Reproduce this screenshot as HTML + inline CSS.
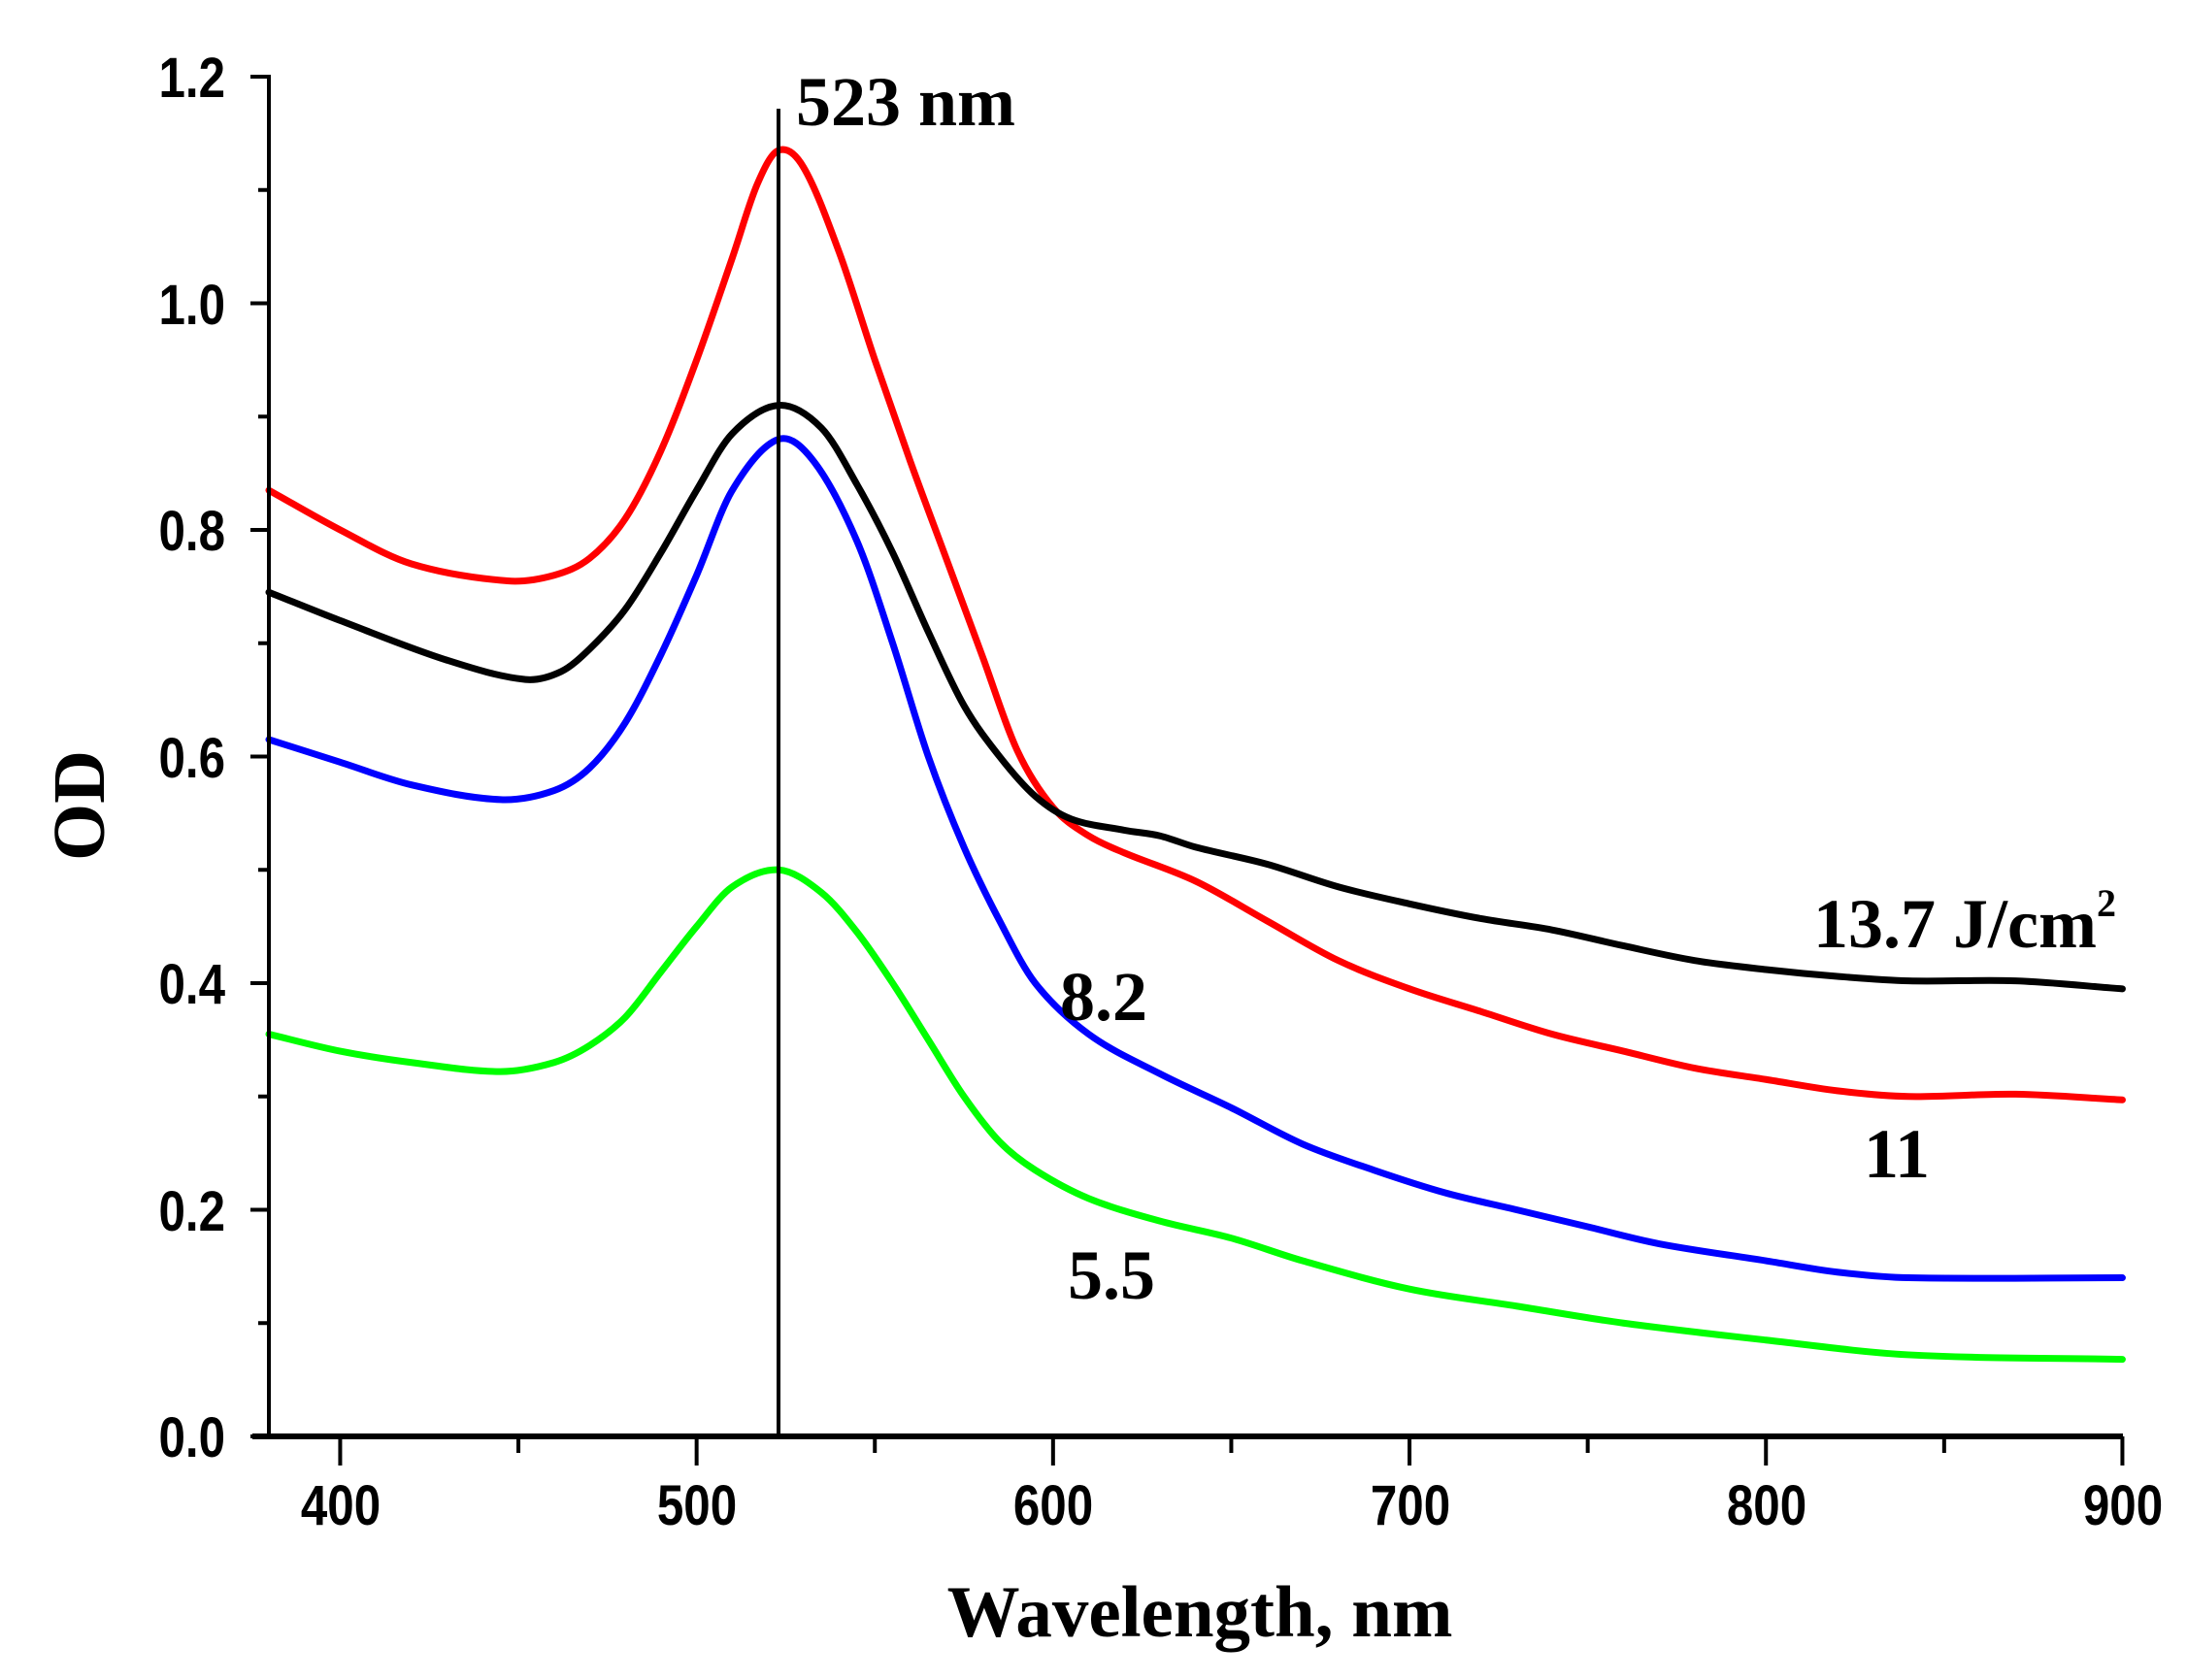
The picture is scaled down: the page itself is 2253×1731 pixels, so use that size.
<!DOCTYPE html>
<html><head><meta charset="utf-8"><style>
html,body{margin:0;padding:0;background:#fff;}
svg{display:block;}
.t{font-family:"Liberation Sans",sans-serif;font-weight:bold;font-size:58px;fill:#000;}
.s{font-family:"Liberation Serif",serif;font-weight:bold;fill:#000;}
</style></head><body>
<svg id="g" width="2253" height="1731" viewBox="0 0 2253 1731" xmlns="http://www.w3.org/2000/svg">
<g id="curves" fill="none" stroke-width="7" stroke-linejoin="round" stroke-linecap="round"></g>
<line x1="802" y1="112" x2="802" y2="1480" stroke="#000" stroke-width="4"/>
<line x1="277" y1="77" x2="277" y2="1482" stroke="#000" stroke-width="4"/>
<line x1="260" y1="1480" x2="2187" y2="1480" stroke="#000" stroke-width="6"/>
<g id="ticks" stroke="#000" stroke-width="4"></g>
<g class="t" text-anchor="end">
<text transform="translate(232,100) scale(0.85,1)">1.2</text>
<text transform="translate(232,334) scale(0.85,1)">1.0</text>
<text transform="translate(232,567) scale(0.85,1)">0.8</text>
<text transform="translate(232,801) scale(0.85,1)">0.6</text>
<text transform="translate(232,1034) scale(0.85,1)">0.4</text>
<text transform="translate(232,1268) scale(0.85,1)">0.2</text>
<text transform="translate(232,1501) scale(0.85,1)">0.0</text>
</g>
<g class="t" text-anchor="middle">
<text transform="translate(351,1571) scale(0.85,1)">400</text>
<text transform="translate(718,1571) scale(0.85,1)">500</text>
<text transform="translate(1085,1571) scale(0.85,1)">600</text>
<text transform="translate(1453,1571) scale(0.85,1)">700</text>
<text transform="translate(1820,1571) scale(0.85,1)">800</text>
<text transform="translate(2187,1571) scale(0.85,1)">900</text>
</g>
<text class="s" x="1236" y="1686" font-size="75" text-anchor="middle">Wavelength, nm</text>
<text class="s" font-size="76" text-anchor="middle" transform="translate(107,830) rotate(-90)">OD</text>
<text class="s" x="820" y="129" font-size="72">523 nm</text>
<text class="s" x="1868" y="976" font-size="72">13.7 J/cm<tspan font-size="40" dy="-32">2</tspan></text>
<text class="s" x="1920" y="1213" font-size="72">11</text>
<text class="s" x="1092" y="1051" font-size="72">8.2</text>
<text class="s" x="1100" y="1338" font-size="72">5.5</text>
</svg>
<script>
const X=w=>277+(w-380)*3.672, Y=v=>1480-v*1167.5;
const data={
"#ff0000":[[380,.835],[400,.80],[420,.77],[447,.755],[460,.76],[470,.775],[480,.81],[490,.87],[500,.95],[510,1.04],[517,1.105],[523,1.135],[530,1.12],[540,1.045],[550,.95],[560,.86],[570,.775],[580,.69],[590,.605],[600,.555],[610,.53],[620,.515],[640,.49],[660,.455],[680,.42],[700,.395],[720,.375],[740,.355],[760,.34],[780,.325],[800,.315],[820,.305],[840,.30],[870,.302],[900,.297]],
"#000000":[[380,.745],[400,.72],[430,.685],[452,.668],[462,.675],[470,.695],[480,.73],[490,.78],[500,.835],[510,.885],[523,.91],[535,.89],[545,.84],[555,.78],[565,.71],[575,.645],[585,.6],[595,.565],[605,.545],[620,.535],[630,.53],[640,.52],[660,.505],[680,.485],[700,.47],[720,.457],[740,.447],[760,.433],[780,.42],[800,.412],[820,.406],[840,.402],[870,.402],[900,.395]],
"#0000ff":[[380,.615],[400,.595],[420,.575],[445,.562],[460,.57],[470,.59],[480,.63],[490,.69],[500,.76],[510,.835],[523,.88],[533,.86],[545,.79],[555,.70],[565,.60],[575,.52],[585,.455],[595,.40],[610,.355],[630,.32],[650,.29],[670,.258],[690,.235],[710,.215],[730,.20],[750,.185],[770,.17],[800,.155],[820,.145],[840,.14],[900,.14]],
"#00ff00":[[380,.355],[400,.34],[420,.33],[445,.322],[460,.33],[470,.345],[480,.37],[490,.41],[500,.45],[510,.485],[523,.5],[535,.48],[545,.445],[555,.40],[565,.35],[575,.30],[585,.26],[595,.235],[610,.21],[630,.19],[650,.175],[670,.155],[700,.13],[730,.115],[760,.1],[800,.085],[840,.072],[900,.068]]};
const NS="http://www.w3.org/2000/svg";
const cg=document.getElementById("curves");
for(const c of ["#00ff00","#0000ff","#ff0000","#000000"]){
 const p=data[c].map(([w,v])=>[X(w),Y(v)]);
 let d="M"+p[0][0]+","+p[0][1];
 for(let i=0;i<p.length-1;i++){
  const p0=p[i-1]||p[i],p1=p[i],p2=p[i+1],p3=p[i+2]||p2;
  const h=p2[0]-p1[0];
  const t1=(p2[1]-p0[1])/(p2[0]-p0[0]||1), t2=(p3[1]-p1[1])/(p3[0]-p1[0]||1);
  const c1=[p1[0]+h/3,p1[1]+t1*h/3];
  const c2=[p2[0]-h/3,p2[1]-t2*h/3];
  d+=` C${c1[0]},${c1[1]} ${c2[0]},${c2[1]} ${p2[0]},${p2[1]}`;
 }
 const e=document.createElementNS(NS,"path");e.setAttribute("d",d);e.setAttribute("stroke",c);cg.appendChild(e);
}
const tg=document.getElementById("ticks");
function ln(x1,y1,x2,y2){const l=document.createElementNS(NS,"line");l.setAttribute("x1",x1);l.setAttribute("y1",y1);l.setAttribute("x2",x2);l.setAttribute("y2",y2);tg.appendChild(l);}
for(let i=0;i<=12;i++){const y=Y(i*0.1);ln(277,y,i%2?266:258,y);}
for(let w=400;w<=900;w+=50){const x=X(w);ln(x,1480,x,w%100?1497:1510);}
</script>
</body></html>
